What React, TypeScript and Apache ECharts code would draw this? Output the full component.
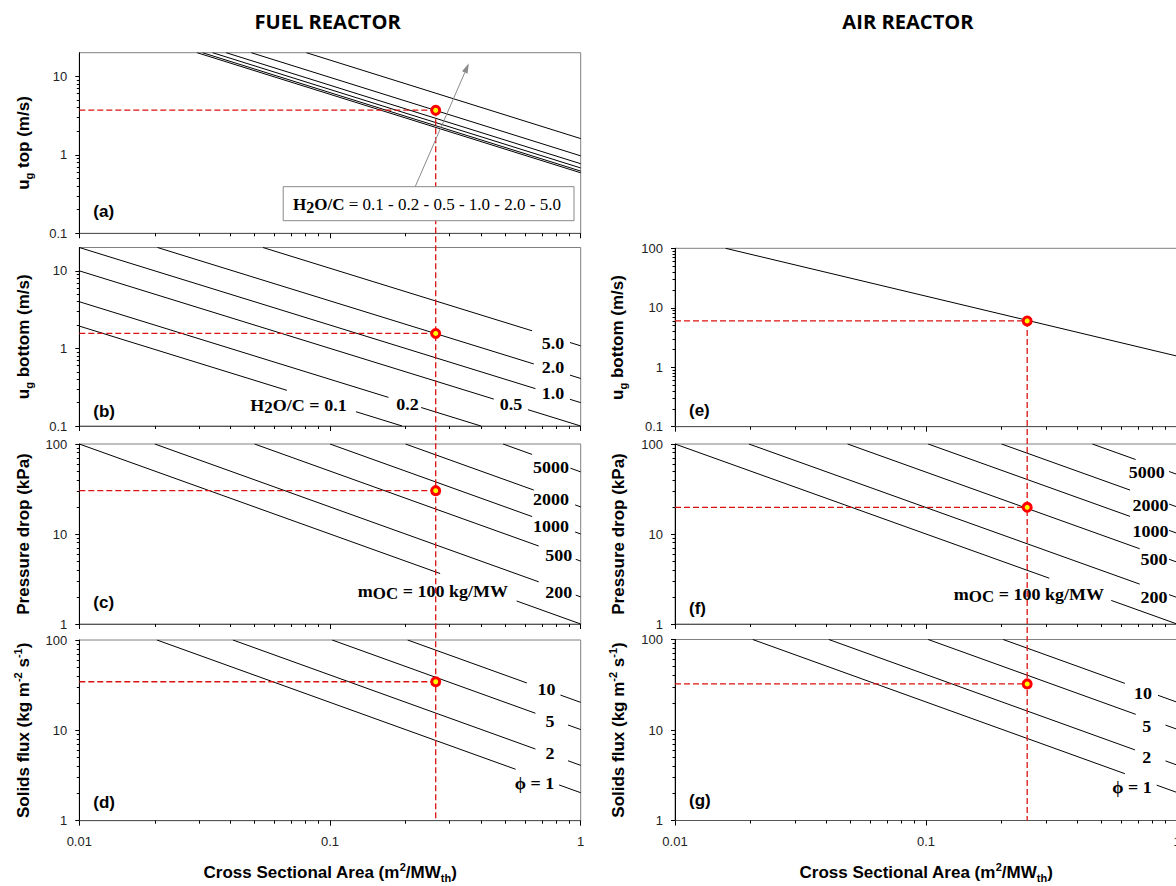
import React, { useEffect, useRef } from 'react';
import * as echarts from 'echarts';

const SANS = '"Liberation Sans", Arial, Helvetica, sans-serif';
const SERIF = '"Liberation Serif", "Times New Roman", Times, serif';

type Pt = [number, number];

// ---------- axis ticks ----------
const AREA_TICKS = [0.01, 0.1, 1];
const AREA_MINOR = [0.02, 0.03, 0.04, 0.05, 0.06, 0.07, 0.08, 0.09, 0.2, 0.3, 0.4, 0.5, 0.6, 0.7, 0.8, 0.9];
const UG_TICKS = [0.1, 1, 10];
const UG_MINOR = [0.2, 0.3, 0.4, 0.5, 0.6, 0.7, 0.8, 0.9, 2, 3, 4, 5, 6, 7, 8, 9];
const UG_AR_TICKS = [0.1, 1, 10, 100];
const UG_AR_MINOR = [0.2, 0.3, 0.4, 0.5, 0.6, 0.7, 0.8, 0.9, 2, 3, 4, 5, 6, 7, 8, 9, 20, 30, 40, 50, 60, 70, 80, 90];
const DEC2_TICKS = [1, 10, 100];
const DEC2_MINOR = [2, 3, 4, 5, 6, 7, 8, 9, 20, 30, 40, 50, 60, 70, 80, 90];

// ---------- data (lines: entry point, exit point) ----------
const H2OC_LEVELS = ['0.1', '0.2', '0.5', '1.0', '2.0', '5.0'];
const FR_UG_TOP: Pt[][] = [
  [[0.0295, 20], [1, 0.59]],
  [[0.031, 20], [1, 0.62]],
  [[0.034, 20], [1, 0.68]],
  [[0.0385, 20], [1, 0.77]],
  [[0.0485, 20], [1, 0.97]],
  [[0.0805, 20], [1, 1.61]],
];
const FR_UG_BOTTOM: Pt[][] = [
  [[0.01, 1.94], [0.194, 0.1]],
  [[0.01, 4.0], [0.4, 0.1]],
  [[0.01, 10], [1, 0.1]],
  [[0.01, 20], [1, 0.2]],
  [[0.0205, 20], [1, 0.41]],
  [[0.054, 20], [1, 1.08]],
];
const MOC_LEVELS = ['100', '200', '500', '1000', '2000', '5000'];
const FR_DP: Pt[][] = [
  [[0.01, 100], [1, 1]],
  [[0.02, 100], [1, 2]],
  [[0.05, 100], [1, 5]],
  [[0.1, 100], [1, 10]],
  [[0.2, 100], [1, 20]],
  [[0.49, 100], [1, 49]],
];
const PHI_LEVELS = ['1', '2', '5', '10'];
const FR_FLUX: Pt[][] = [
  [[0.0204, 100], [1, 2.04]],
  [[0.041, 100], [1, 4.1]],
  [[0.102, 100], [1, 10.2]],
  [[0.204, 100], [1, 20.4]],
];
const AR_UG_BOTTOM: Pt[][] = [[[0.0159, 100], [1, 1.54]]];
const AR_DP: Pt[][] = [
  [[0.01, 100], [1, 1]],
  [[0.0197, 100], [1, 1.97]],
  [[0.0487, 100], [1, 4.87]],
  [[0.102, 100], [1, 10.2]],
  [[0.2, 100], [1, 20]],
  [[0.46, 100], [1, 46]],
];
const AR_FLUX: Pt[][] = [
  [[0.0204, 100], [1, 2.04]],
  [[0.041, 100], [1, 4.1]],
  [[0.102, 100], [1, 10.2]],
  [[0.203, 100], [1, 20.3]],
];

// operating points
const FR_AREA = 0.264;
const FR_POINT_VALUES = [3.7, 1.56, 30.3, 34.5];
const AR_AREA = 0.253;
const AR_POINT_VALUES = [6.0, 19.8, 32.3];

// ---------- layout ----------
const UG = (w: string) => `{b|u}{s|g}{b| ${w} (m/s)}`;
const FLUX_NAME = '{b|Solids flux (kg m}{p|-2}{b| s}{p|-1}{b|)}';
const X_NAME = '{b|Cross Sectional Area (m}{p|2}{b|/MW}{s|th}{b|)}';

const PANELS = [
  { left: 79.3, top: 52.7, width: 501.4, height: 180.6, min: 0.1, max: 20, ticks: UG_TICKS, minor: UG_MINOR, name: UG('top'), gap: 45, letter: '(a)', letterY: 211.7, xLabels: false },
  { left: 79.3, top: 247.5, width: 501.4, height: 178.5, min: 0.1, max: 20, ticks: UG_TICKS, minor: UG_MINOR, name: UG('bottom'), gap: 45, letter: '(b)', letterY: 411.7, xLabels: false },
  { left: 79.3, top: 444, width: 501.4, height: 180, min: 1, max: 100, ticks: DEC2_TICKS, minor: DEC2_MINOR, name: '{b|Pressure drop (kPa)}', gap: 45, letter: '(c)', letterY: 602.7, xLabels: false },
  { left: 79.3, top: 640, width: 501.4, height: 180.7, min: 1, max: 100, ticks: DEC2_TICKS, minor: DEC2_MINOR, name: FLUX_NAME, gap: 45, letter: '(d)', letterY: 802.7, xLabels: true },
  { left: 675, top: 248.3, width: 502, height: 178.4, min: 0.1, max: 100, ticks: UG_AR_TICKS, minor: UG_AR_MINOR, name: UG('bottom'), gap: 47, letter: '(e)', letterY: 410, xLabels: false },
  { left: 675, top: 444, width: 502, height: 180, min: 1, max: 100, ticks: DEC2_TICKS, minor: DEC2_MINOR, name: '{b|Pressure drop (kPa)}', gap: 46, letter: '(f)', letterY: 608.3, xLabels: false },
  { left: 675, top: 639.5, width: 502, height: 181, min: 1, max: 100, ticks: DEC2_TICKS, minor: DEC2_MINOR, name: FLUX_NAME, gap: 46, letter: '(g)', letterY: 800, xLabels: true },
];
const PANEL_LINES = [FR_UG_TOP, FR_UG_BOTTOM, FR_DP, FR_FLUX, AR_UG_BOTTOM, AR_DP, AR_FLUX];

// line labels: [rich text, x, y]
const LINE_LABELS: [string, number, number][] = [
  [`{m|${H2OC_LEVELS[5]}}`, 553, 343.3],
  [`{m|${H2OC_LEVELS[4]}}`, 553, 367.3],
  [`{m|${H2OC_LEVELS[3]}}`, 553, 393.3],
  [`{m|${H2OC_LEVELS[2]}}`, 511, 404],
  [`{m|${H2OC_LEVELS[1]}}`, 407.6, 404],
  [`{m|H}{s|2}{m|O/C = ${H2OC_LEVELS[0]}}`, 298.5, 405],
  [`{m|${MOC_LEVELS[5]}}`, 551, 466.7],
  [`{m|${MOC_LEVELS[4]}}`, 551, 499],
  [`{m|${MOC_LEVELS[3]}}`, 551, 526],
  [`{m|${MOC_LEVELS[2]}}`, 558.7, 555],
  [`{m|${MOC_LEVELS[1]}}`, 558.7, 591.7],
  [`{m|m}{s|OC}{m| = ${MOC_LEVELS[0]} kg/MW}`, 433, 590.7],
  [`{m|${PHI_LEVELS[3]}}`, 546.5, 689],
  [`{m|${PHI_LEVELS[2]}}`, 550, 720.7],
  [`{m|${PHI_LEVELS[1]}}`, 550, 753.3],
  [`{m|ϕ = ${PHI_LEVELS[0]}}`, 534.6, 783.3],
  [`{m|${MOC_LEVELS[5]}}`, 1146.8, 471.7],
  [`{m|${MOC_LEVELS[4]}}`, 1150.5, 505],
  [`{m|${MOC_LEVELS[3]}}`, 1150.5, 530.7],
  [`{m|${MOC_LEVELS[2]}}`, 1154, 559.3],
  [`{m|${MOC_LEVELS[1]}}`, 1154, 596.7],
  [`{m|m}{s|OC}{m| = ${MOC_LEVELS[0]} kg/MW}`, 1029, 594],
  [`{m|${PHI_LEVELS[3]}}`, 1143, 692.7],
  [`{m|${PHI_LEVELS[2]}}`, 1146.8, 726],
  [`{m|${PHI_LEVELS[1]}}`, 1146.8, 756.7],
  [`{m|ϕ = ${PHI_LEVELS[0]}}`, 1131.9, 786.7],
];

// gaps in the lines behind the labels: panel, line, area from, area to
const GAPS: { p: number; line: Pt[]; from: number; to: number }[] = [
  { p: 1, line: FR_UG_BOTTOM[5], from: 0.64, to: 0.906 },
  { p: 1, line: FR_UG_BOTTOM[4], from: 0.65, to: 0.906 },
  { p: 1, line: FR_UG_BOTTOM[3], from: 0.66, to: 0.906 },
  { p: 1, line: FR_UG_BOTTOM[2], from: 0.45, to: 0.616 },
  { p: 1, line: FR_UG_BOTTOM[1], from: 0.171, to: 0.231 },
  { p: 1, line: FR_UG_BOTTOM[0], from: 0.0673, to: 0.127 },
  { p: 2, line: FR_DP[5], from: 0.64, to: 0.91 },
  { p: 2, line: FR_DP[4], from: 0.65, to: 0.95 },
  { p: 2, line: FR_DP[3], from: 0.64, to: 0.95 },
  { p: 2, line: FR_DP[2], from: 0.68, to: 0.955 },
  { p: 2, line: FR_DP[1], from: 0.68, to: 0.955 },
  { p: 2, line: FR_DP[0], from: 0.275, to: 0.555 },
  { p: 3, line: FR_FLUX[3], from: 0.61, to: 0.83 },
  { p: 3, line: FR_FLUX[2], from: 0.66, to: 0.89 },
  { p: 3, line: FR_FLUX[1], from: 0.66, to: 0.89 },
  { p: 3, line: FR_FLUX[0], from: 0.55, to: 0.82 },
  { p: 5, line: AR_DP[5], from: 0.684, to: 0.93 },
  { p: 5, line: AR_DP[4], from: 0.65, to: 0.93 },
  { p: 5, line: AR_DP[3], from: 0.65, to: 0.93 },
  { p: 5, line: AR_DP[2], from: 0.71, to: 0.93 },
  { p: 5, line: AR_DP[1], from: 0.71, to: 0.93 },
  { p: 5, line: AR_DP[0], from: 0.31, to: 0.547 },
  { p: 6, line: AR_FLUX[3], from: 0.62, to: 0.84 },
  { p: 6, line: AR_FLUX[2], from: 0.685, to: 0.9 },
  { p: 6, line: AR_FLUX[1], from: 0.68, to: 0.9 },
  { p: 6, line: AR_FLUX[0], from: 0.62, to: 0.83 },
];

const NAME_RICH = {
  b: { fontFamily: SANS, fontWeight: 'bold', fontSize: 17, lineHeight: 22, color: '#000', verticalAlign: 'middle' },
  s: { fontFamily: SANS, fontWeight: 'bold', fontSize: 11, lineHeight: 14, color: '#000', verticalAlign: 'bottom' },
  p: { fontFamily: SANS, fontWeight: 'bold', fontSize: 11, lineHeight: 12, color: '#000', verticalAlign: 'top' },
};
const SERIF_RICH = {
  m: { fontFamily: SERIF, fontWeight: 'bold', fontSize: 17, lineHeight: 22, fill: '#000', verticalAlign: 'middle' },
  s: { fontFamily: SERIF, fontWeight: 'bold', fontSize: 16, lineHeight: 14, fill: '#000', verticalAlign: 'bottom' },
  n: { fontFamily: SERIF, fontWeight: 'normal', fontSize: 17, lineHeight: 22, fill: '#000', verticalAlign: 'middle' },
};

const RED = '#dd1111';
const fmt = (v: number) => String(Number(Number(v).toPrecision(6)));

function buildOption(): any {
  const grid = PANELS.map((p) => ({
    left: p.left, top: p.top, width: p.width, height: p.height,
    show: true, borderColor: '#808080', borderWidth: 1, containLabel: false, outerBoundsMode: 'none',
  }));
  const xAxis: any[] = [];
  const yAxis: any[] = [];
  PANELS.forEach((p, i) => {
    xAxis.push({
      type: 'log', logBase: 10, gridIndex: i, min: 0.01, max: 1, position: 'bottom',
      axisLine: { show: true, onZero: false, lineStyle: { color: '#555', width: 1 } },
      axisTick: { show: true, inside: false, length: 5, customValues: AREA_TICKS, lineStyle: { color: '#000', width: 1 } },
      axisLabel: { show: p.xLabels, customValues: AREA_TICKS, margin: 14, color: '#222', fontSize: 13, fontFamily: SANS, formatter: fmt },
      splitLine: { show: false },
      name: p.xLabels ? X_NAME : '', nameLocation: 'middle', nameGap: 41, nameTextStyle: { rich: NAME_RICH },
    });
    xAxis.push({
      type: 'log', logBase: 10, gridIndex: i, min: 0.01, max: 1, position: 'bottom',
      axisLine: { show: false, onZero: false },
      axisTick: { show: true, inside: false, length: 3, customValues: AREA_MINOR, lineStyle: { color: '#000', width: 1 } },
      axisLabel: { show: false },
      splitLine: { show: false },
    });
    yAxis.push({
      type: 'log', logBase: 10, gridIndex: i, min: p.min, max: p.max, position: 'left',
      axisLine: { show: true, onZero: false, lineStyle: { color: '#000', width: 1 } },
      axisTick: { show: true, inside: false, length: 4, customValues: p.ticks, lineStyle: { color: '#000', width: 1 } },
      axisLabel: { show: true, customValues: p.ticks, margin: 12, color: '#222', fontSize: 13, fontFamily: SANS, formatter: fmt },
      splitLine: { show: false },
      name: p.name, nameLocation: 'middle', nameGap: p.gap, nameRotate: 90, nameTextStyle: { rich: NAME_RICH },
    });
    yAxis.push({
      type: 'log', logBase: 10, gridIndex: i, min: p.min, max: p.max, position: 'left',
      axisLine: { show: false, onZero: false },
      axisTick: { show: true, inside: false, length: 2.5, customValues: p.minor, lineStyle: { color: '#000', width: 1 } },
      axisLabel: { show: false },
      splitLine: { show: false },
    });
  });

  const series: any[] = [];
  PANEL_LINES.forEach((lines, i) => {
    lines.forEach((line) => {
      series.push({
        type: 'line', xAxisIndex: 2 * i, yAxisIndex: 2 * i, data: line, symbol: 'none', showSymbol: false,
        lineStyle: { color: '#000', width: 1 }, silent: true, z: 2, clip: true,
      });
    });
  });
  const addPoint = (i: number, area: number, v: number) => {
    series.push({
      type: 'line', xAxisIndex: 2 * i, yAxisIndex: 2 * i, data: [[0.01, v], [area, v]], symbol: 'none',
      lineStyle: { color: RED, width: 1.3, type: [6, 3] }, silent: true, z: 12,
    });
    series.push({
      type: 'scatter', xAxisIndex: 2 * i, yAxisIndex: 2 * i, data: [[area, v]], symbol: 'circle', symbolSize: 8,
      itemStyle: { color: '#ffff00', borderColor: '#ff0000', borderWidth: 3, opacity: 1 }, silent: true, z: 20,
    });
  };
  FR_POINT_VALUES.forEach((v, k) => addPoint(k, FR_AREA, v));
  AR_POINT_VALUES.forEach((v, k) => addPoint(4 + k, AR_AREA, v));

  return {
    animation: false,
    backgroundColor: '#fff',
    textStyle: { fontFamily: SANS },
    grid, xAxis, yAxis, series,
  };
}

function txt(text: string, x: number, y: number, font: string, align = 'center', rich?: any, z = 15, scaleX = 1) {
  return {
    type: 'text', x, y, z, silent: true, scaleX, scaleY: 1,
    style: { text, font, fill: '#000', align, verticalAlign: 'middle', textAlign: align, textVerticalAlign: 'middle', rich },
  };
}

function buildGraphics(chart: any): any[] {
  const els: any[] = [];
  const finder = (i: number) => ({ xAxisIndex: 2 * i, yAxisIndex: 2 * i });

  els.push(txt('FUEL REACTOR', 327.6, 21.7, `bold 19px "Open Sans", ${SANS}`, 'center', undefined, 15, 1.06));
  els.push(txt('AIR REACTOR', 908, 21.7, `bold 19px "Open Sans", ${SANS}`, 'center', undefined, 15, 1.06));

  PANELS.forEach((p) => els.push(txt(p.letter, p.left + 14, p.letterY, `bold 17px ${SANS}`, 'left')));

  GAPS.forEach((g) => {
    const a = chart.convertToPixel(finder(g.p), g.line[0]);
    const b = chart.convertToPixel(finder(g.p), g.line[1]);
    const x1 = chart.convertToPixel(finder(g.p), [g.from, g.line[0][1]])[0];
    const x2 = chart.convertToPixel(finder(g.p), [g.to, g.line[0][1]])[0];
    const lerp = (x: number) => a[1] + ((b[1] - a[1]) * (x - a[0])) / (b[0] - a[0]);
    const y1 = lerp(x1);
    const y2 = lerp(x2);
    const h = 5;
    els.push({
      type: 'polygon', z: 10, silent: true,
      shape: { points: [[x1, y1 - h], [x2, y2 - h], [x2, y2 + h], [x1, y1 + h]] },
      style: { fill: '#fff', stroke: null },
    });
  });

  LINE_LABELS.forEach(([t, x, y]) => els.push(txt(t, x, y, `bold 17px ${SERIF}`, 'center', SERIF_RICH, 11, 1.06)));

  // vertical dashed guides
  const top1 = chart.convertToPixel(finder(0), [FR_AREA, FR_POINT_VALUES[0]]);
  const bot1 = chart.convertToPixel(finder(3), [FR_AREA, PANELS[3].min]);
  const top2 = chart.convertToPixel(finder(4), [AR_AREA, AR_POINT_VALUES[0]]);
  const bot2 = chart.convertToPixel(finder(6), [AR_AREA, PANELS[6].min]);
  [[top1, bot1], [top2, bot2]].forEach(([t, b]) => {
    els.push({
      type: 'line', z: 12, silent: true,
      shape: { x1: t[0], y1: t[1], x2: b[0], y2: b[1] },
      style: { stroke: RED, lineWidth: 1.3, lineDash: [6, 3] },
    });
  });

  // legend box of panel (a)
  els.push({
    type: 'rect', z: 13, silent: true,
    shape: { x: 283.2, y: 186.7, width: 290.8, height: 34 },
    style: { fill: '#fff', stroke: '#888', lineWidth: 1 },
  });
  els.push(txt(`{m|H}{s|2}{m|O/C}{n| = ${H2OC_LEVELS.join(' - ')}}`, 427, 204.5, `17px ${SERIF}`, 'center', SERIF_RICH, 14));

  // arrow
  const ax1 = 415.2, ay1 = 186.7, ax2 = 468.8, ay2 = 63.3;
  const dx = ax2 - ax1, dy = ay2 - ay1, len = Math.hypot(dx, dy);
  const ux = dx / len, uy = dy / len;
  const bx = ax2 - 10 * ux, by = ay2 - 10 * uy;
  els.push({
    type: 'line', z: 14, silent: true,
    shape: { x1: ax1, y1: ay1, x2: bx, y2: by },
    style: { stroke: '#8a8a8a', lineWidth: 1 },
  });
  els.push({
    type: 'polygon', z: 14, silent: true,
    shape: { points: [[ax2, ay2], [bx - 3 * uy, by + 3 * ux], [bx + 3 * uy, by - 3 * ux]] },
    style: { fill: '#8a8a8a' },
  });
  return els;
}

export default function App() {
  const ref = useRef<HTMLDivElement>(null);
  useEffect(() => {
    if (!ref.current) return;
    const chart = echarts.init(ref.current, null, { renderer: 'svg' });
    chart.setOption(buildOption());
    chart.setOption({ graphic: buildGraphics(chart) });
    return () => chart.dispose();
  }, []);
  return (
    <div style={{ position: 'absolute', left: 0, top: 0, width: 1176, height: 886, overflow: 'hidden', background: '#fff' }}>
      <div ref={ref} style={{ width: 1176, height: 886 }} />
    </div>
  );
}
